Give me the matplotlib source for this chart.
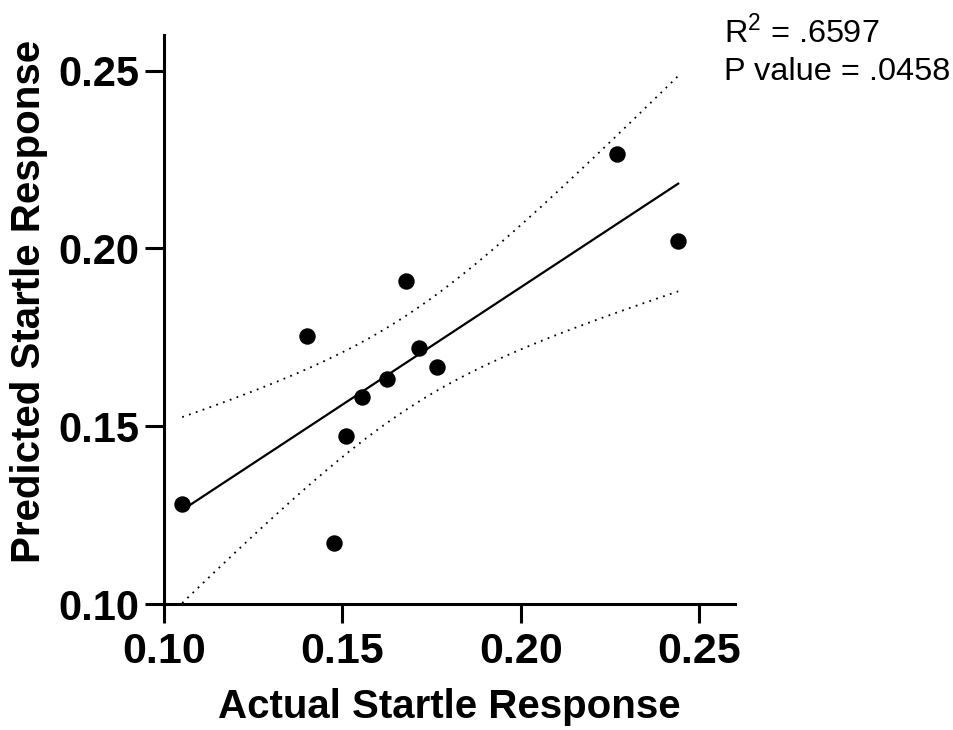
import numpy as np
import matplotlib
matplotlib.use("Agg")
import matplotlib.pyplot as plt
from matplotlib import font_manager

actual = [0.1051, 0.1402, 0.1476, 0.1509, 0.1554, 0.1625, 0.1678, 0.1715, 0.1765, 0.2269, 0.2441]
predicted = [0.1281, 0.1754, 0.1172, 0.1473, 0.1582, 0.1633, 0.1909, 0.1720, 0.1667, 0.2266, 0.2021]
ticks = [0.10, 0.15, 0.20, 0.25]
tick_labels = ["0.10", "0.15", "0.20", "0.25"]
stats_line1 = "R$^2$ = .6597"
stats_line2 = "P value = .0458"

plt.rcParams['font.family'] = ['Liberation Sans', 'DejaVu Sans']
plt.rcParams['mathtext.fontset'] = 'custom'
plt.rcParams['mathtext.rm'] = 'Liberation Sans'

names = {f.name for f in font_manager.fontManager.ttflist}
narrow = 'Liberation Sans Narrow' in names

x = np.array(actual)
y = np.array(predicted)
n = len(x)
slope, intercept = np.polyfit(x, y, 1)
xs = np.linspace(x.min(), x.max(), 200)
ys = slope * xs + intercept
resid = y - (slope * x + intercept)
s = np.sqrt(np.sum(resid**2) / (n - 2))
sxx = np.sum((x - x.mean())**2)
tval = 2.262
half = tval * s * np.sqrt(1.0 / n + (xs - x.mean())**2 / sxx)

fig = plt.figure(figsize=(9.54, 7.30), dpi=100)
ax = fig.add_axes([0.1719, 0.1726, 0.7704 - 0.1719, 0.952 - 0.1726])

ax.plot(xs, ys, color='black', lw=1.6, zorder=2)
ax.plot(xs, ys + half, color='black', lw=1.3, ls=(0, (1, 3)), zorder=2)
ax.plot(xs, ys - half, color='black', lw=1.3, ls=(0, (1, 3)), zorder=2)
ax.scatter(x, y, s=140, color='black', zorder=3, linewidths=0)

ax.set_xlim(0.10, 0.26)
ax.set_ylim(0.10, 0.26)
ax.set_xticks(ticks)
ax.set_yticks(ticks)
if narrow:
    ax.set_xticklabels(tick_labels, fontsize=35, fontweight='bold', family='Liberation Sans Narrow')
else:
    ax.set_xticklabels(tick_labels, fontsize=31, fontweight='bold', family=['Liberation Sans', 'DejaVu Sans'])
ax.set_yticklabels(tick_labels, fontsize=30, fontweight='bold')
for sp in ['top', 'right']:
    ax.spines[sp].set_visible(False)
for sp in ['left', 'bottom']:
    ax.spines[sp].set_linewidth(2.2)
ax.tick_params(axis='both', direction='out', length=14, width=2.2)
ax.tick_params(axis='x', pad=6)
ax.tick_params(axis='y', pad=4)

ax.set_xlabel("Actual Startle Response", fontsize=29, fontweight='bold', labelpad=12)
ax.set_ylabel("Predicted Startle Response", fontsize=29, fontweight='bold')
ax.yaxis.set_label_coords(-0.203, 0.531)

fig.text(724 / 954, 1 - 43 / 730, stats_line1, fontsize=23.4, ha='left', va='baseline')
fig.text(724 / 954, 1 - 80 / 730, stats_line2, fontsize=23.4, ha='left', va='baseline')

fig.savefig("out.png", dpi=100)
